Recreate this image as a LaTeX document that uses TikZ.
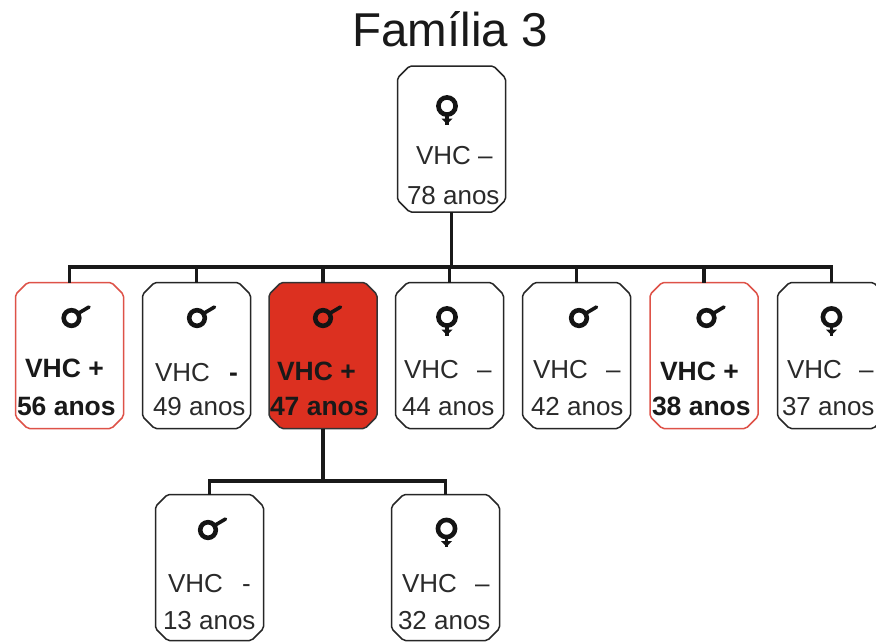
\documentclass[tikz,border=0pt]{standalone}
\usepackage{fontspec}
\setmainfont{Liberation Sans}
\usetikzlibrary{calc}
\definecolor{fillred}{HTML}{DC3020}
\definecolor{edgered}{HTML}{DE5248}
\definecolor{inktext}{HTML}{2A2A2A}
\tikzset{
  x=1pt,y=-1pt,
  person/.style={rectangle,minimum width=108pt,minimum height=146pt,inner sep=0pt,outer sep=0pt},
  plainframe/.style={draw=black!85,fill=white,line width=1.5pt,line join=round,rounded corners=2pt},
  positive/.style={plainframe,draw=edgered},
  affected/.style={plainframe,fill=fillred,draw=black!80},
  link/.style={draw=black!90,line width=3.4pt,line cap=butt},
  label/.style={anchor=base west,inner sep=0pt,outer sep=0pt,font=\fontsize{26}{28}\selectfont,text=inktext},
  blabel/.style={anchor=base west,inner sep=0pt,outer sep=0pt,font=\fontsize{26.5}{28}\selectfont\bfseries,text=black!90},
  ttl/.style={inner sep=0pt,font=\fontsize{47.5}{50}\selectfont,text=black!90},
  sym/.style={draw=black!92,line width=4.6pt,line cap=butt},
}
% name, centre, frame style
\newcommand{\personbox}[3]{%
  \node[person] (#1) at (#2) {};
  \draw[#3] ($(#1.north west)+(12,0)$) -- ($(#1.north east)+(-12,0)$)
    -- ($(#1.north east)+(0,12)$) -- ($(#1.south east)+(0,-12)$)
    -- ($(#1.south east)+(-12,0)$) -- ($(#1.south west)+(12,0)$)
    -- ($(#1.south west)+(0,-12)$) -- ($(#1.north west)+(0,12)$) -- cycle;
}
\newcommand{\femalemark}[1]{%
  \draw[sym] (#1) circle[radius=8.6];
  \draw[sym,line width=3.8pt] ($(#1)+(0,9)$) -- ($(#1)+(0,18.5)$);
  \fill[black!92] ($(#1)+(-5.5,12.5)$) -- ($(#1)+(5.5,12.5)$) -- ($(#1)+(1.5,16.5)$) -- ($(#1)+(-1.5,16.5)$) -- cycle;
}
\newcommand{\malemark}[1]{%
  \draw[sym] (#1) circle[radius=7.8];
  \draw[sym,line width=3.6pt,line cap=round] ($(#1)+(6.5,-4.5)$) -- ($(#1)+(17.5,-11)$);
}
\begin{document}
\begin{tikzpicture}
\useasboundingbox (0,0) rectangle (876,641);
\clip (0,0) rectangle (876,641);
\fill[white] (0,0) rectangle (876,641);
\node[ttl] (title) at (450,29) {Família 3};

\personbox{top}{451.5,139}{plainframe}
\personbox{c1}{69.5,355.5}{positive}
\personbox{c2}{196.5,355.5}{plainframe}
\personbox{c3}{323,355.5}{affected}
\personbox{c4}{449.5,355.5}{plainframe}
\personbox{c5}{576.5,355.5}{plainframe}
\personbox{c6}{704,355.5}{positive}
\personbox{c7}{831.5,355.5}{plainframe}
\personbox{g1}{209.5,567.5}{plainframe}
\personbox{g2}{445.5,567.5}{plainframe}

\coordinate (bus) at (451,267);
\coordinate (busb) at (323,481);
\draw[link] (top.south) -- (top.south |- bus);
\draw[link] (c1.north) |- (c7.north |- bus) -- (c7.north);
\foreach \n in {c2,c3,c4,c5,c6} \draw[link] (\n.north) -- (\n.north |- bus);
\draw[link] (c3.south) -- (busb);
\draw[link] (g1.north) |- (g2.north |- busb) -- (g2.north);

\coordinate (s0) at (447,106);
\coordinate (s1) at (71.5,318);
\coordinate (s2) at (197,318);
\coordinate (s3) at (323,318);
\coordinate (s4) at (447,317);
\coordinate (s5) at (579,318);
\coordinate (s6) at (706.5,318);
\coordinate (s7) at (831.5,317);
\coordinate (s8) at (208,530);
\coordinate (s9) at (446.5,528.5);
\femalemark{s0}\femalemark{s4}\femalemark{s7}\femalemark{s9}
\malemark{s1}\malemark{s2}\malemark{s3}\malemark{s5}\malemark{s6}\malemark{s8}

\node[label] (t0a) at (416,164) {VHC –};
\node[label] (t0b) at (407,204) {78 anos};
\node[blabel] (t1a) at (25,377) {VHC +};
\node[blabel] (t1b) at (17,415) {56 anos};
\node[label] (t2a) at (155,381) {VHC};
\node[blabel] (t2m) at (229,381) {-};
\node[label] (t2b) at (153,415) {49 anos};
\node[blabel] (t3a) at (277,380) {VHC +};
\node[blabel] (t3b) at (270,415) {47 anos};
\node[label] (t4a) at (404,378) {VHC};
\node[label] (t4m) at (477,378) {–};
\node[label] (t4b) at (402,415) {44 anos};
\node[label] (t5a) at (533,378) {VHC};
\node[label] (t5m) at (606,378) {–};
\node[label] (t5b) at (531,415) {42 anos};
\node[blabel] (t6a) at (660,380) {VHC +};
\node[blabel] (t6b) at (652,415) {38 anos};
\node[label] (t7a) at (787,378) {VHC};
\node[label] (t7m) at (859,378) {–};
\node[label] (t7b) at (782,415) {37 anos};
\node[label] (t8a) at (168,592) {VHC};
\node[label] (t8m) at (242,592) {-};
\node[label] (t8b) at (163,629) {13 anos};
\node[label] (t9a) at (402,592) {VHC};
\node[label] (t9m) at (475,592) {–};
\node[label] (t9b) at (398,629) {32 anos};
\end{tikzpicture}
\end{document}
